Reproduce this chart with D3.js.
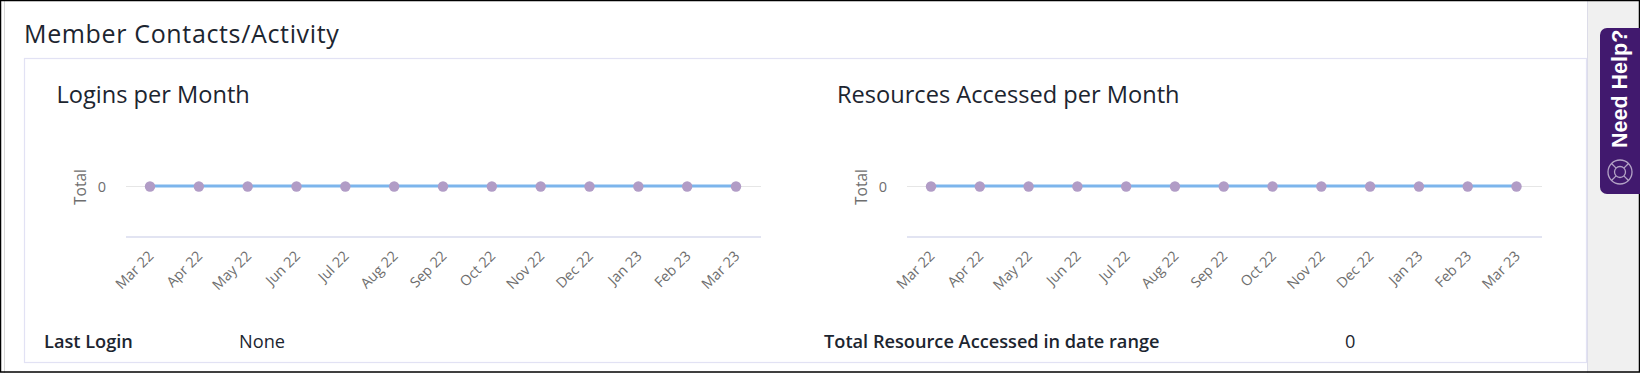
<!DOCTYPE html>
<html>
<head>
<meta charset="utf-8">
<script src="https://d3js.org/d3.v7.min.js"></script>
<style>
html, body { margin: 0; padding: 0; background: #fff; overflow: hidden; }
text { font-family: "Open Sans", sans-serif; }
</style>
</head>
<body>
<div id="chart"></div>
<script>
const months = ["Mar 22", "Apr 22", "May 22", "Jun 22", "Jul 22", "Aug 22", "Sep 22", "Oct 22", "Nov 22", "Dec 22", "Jan 23", "Feb 23", "Mar 23"];
const logins = [0, 0, 0, 0, 0, 0, 0, 0, 0, 0, 0, 0, 0];
const resources = [0, 0, 0, 0, 0, 0, 0, 0, 0, 0, 0, 0, 0];
const yTicks = [0];

const width = 1640;
const height = 373;

const svg = d3.select("#chart")
    .append("svg")
    .attr("width", width)
    .attr("height", height)
    .style("display", "block");

// page frame and side strip
svg.append("rect").attr("x", 1587).attr("y", 0).attr("width", 53).attr("height", height).attr("fill", "#f0f0f0");
svg.append("line").attr("x1", 1587.5).attr("x2", 1587.5).attr("y1", 0).attr("y2", height).attr("stroke", "#dcdce8");
svg.append("line").attr("x1", 4.5).attr("x2", 4.5).attr("y1", 0).attr("y2", height).attr("stroke", "#d8d8d8");
svg.append("rect").attr("x", 0.5).attr("y", 0.5).attr("width", width - 1).attr("height", height - 1.5)
    .attr("fill", "none").attr("stroke", "#000").attr("stroke-width", 1.5);

svg.append("text").attr("x", 24).attr("y", 43).attr("font-size", 25).attr("letter-spacing", 0.65).attr("fill", "#1c2530")
    .text("Member Contacts/Activity");

// panel
svg.append("rect").attr("x", 24.5).attr("y", 58.5).attr("width", 1562).attr("height", 304)
    .attr("fill", "#fff").attr("stroke", "#e2e2f4").attr("stroke-width", 1.2);

function drawChart(cfg) {
    const g = svg.append("g");

    g.append("text").attr("x", cfg.titleX).attr("y", 103).attr("font-size", 23.6).attr("fill", "#1c2530")
        .text(cfg.title);

    const xScale = d3.scalePoint().domain(months).range([cfg.first, cfg.last]);
    const yScale = d3.scaleLinear().domain([0, 1]).range([186.5, 136]);

    // baseline + labels
    const xAxis = g.append("g")
        .attr("transform", "translate(0,237)")
        .call(d3.axisBottom(xScale).tickSize(0));
    xAxis.select(".domain").remove();
    xAxis.append("line").attr("x1", cfg.axisL).attr("x2", cfg.axisR)
        .attr("stroke", "#e2e4f2").attr("stroke-width", 2);
    xAxis.selectAll("text")
        .attr("font-family", "'Open Sans', sans-serif")
        .attr("font-size", 14.3)
        .attr("fill", "#6e6e6e")
        .attr("text-anchor", "end")
        .attr("dy", 0)
        .attr("y", 0)
        .attr("transform", "translate(4,20) rotate(-45)");

    // y axis
    const yAxis = g.append("g")
        .attr("transform", "translate(" + cfg.axisL + ",0)")
        .call(d3.axisLeft(yScale).tickValues(yTicks).tickFormat(d3.format("d")).tickSize(0).tickPadding(20));
    yAxis.select(".domain").remove();
    yAxis.selectAll("text")
        .attr("font-family", "'Open Sans', sans-serif")
        .attr("font-size", 14.5)
        .attr("fill", "#6e6e6e");

    g.selectAll(".grid").data(yTicks).enter().append("line")
        .attr("class", "grid")
        .attr("x1", cfg.axisL).attr("x2", cfg.axisR)
        .attr("y1", d => yScale(d)).attr("y2", d => yScale(d))
        .attr("stroke", "#e6e6e6").attr("stroke-width", 1);

    g.append("text")
        .attr("transform", "translate(" + (cfg.axisL - 40) + ",187) rotate(-90)")
        .attr("text-anchor", "middle")
        .attr("font-size", 15.5)
        .attr("fill", "#6e6e6e")
        .text("Total");

    const line = d3.line().x((d, i) => xScale(months[i])).y(d => yScale(d) - 0.5);
    g.append("path").datum(cfg.values)
        .attr("d", line)
        .attr("fill", "none")
        .attr("stroke", "#7cb5ec")
        .attr("stroke-width", 3);

    g.selectAll("circle").data(cfg.values).enter().append("circle")
        .attr("cx", (d, i) => xScale(months[i]))
        .attr("cy", d => yScale(d))
        .attr("r", 5.2)
        .attr("fill", "#b19cc6");
}

drawChart({title: "Logins per Month", titleX: 56.5, values: logins, first: 150, last: 736, axisL: 126, axisR: 761});
drawChart({title: "Resources Accessed per Month", titleX: 837, values: resources, first: 931, last: 1516.5, axisL: 907, axisR: 1542});

// bottom summary row
svg.append("text").attr("x", 44).attr("y", 348).attr("font-size", 18.2).attr("font-weight", 600).attr("fill", "#1c2530").text("Last Login");
svg.append("text").attr("x", 239).attr("y", 348).attr("font-size", 18.2).attr("fill", "#1c2530").text("None");
svg.append("text").attr("x", 824).attr("y", 348).attr("font-size", 18.2).attr("font-weight", 600).attr("fill", "#1c2530").text("Total Resource Accessed in date range");
svg.append("text").attr("x", 1345).attr("y", 348).attr("font-size", 18.2).attr("fill", "#1c2530").text("0");

// need help tab
const tab = svg.append("g");
tab.append("path")
    .attr("d", "M1640,28H1607a7,7 0 0 0 -7,7V187a7,7 0 0 0 7,7H1640Z")
    .attr("fill", "#41196e");
tab.append("text")
    .attr("transform", "translate(1627,148) rotate(-90)")
    .attr("font-size", 21.5)
    .attr("font-weight", 700)
    .style("font-family", "'Liberation Sans', Arial, sans-serif")
    .attr("fill", "#fff")
    .text("Need Help?");
const icon = tab.append("g").attr("transform", "translate(1620,172)").attr("fill", "none").attr("stroke", "#b3a3c5").attr("stroke-width", 1.3);
icon.append("circle").attr("r", 12);
icon.append("circle").attr("r", 5.5);
d3.range(4).forEach(i => {
    const a = Math.PI / 4 + i * Math.PI / 2;
    icon.append("line")
        .attr("x1", 5.5 * Math.cos(a)).attr("y1", 5.5 * Math.sin(a))
        .attr("x2", 12 * Math.cos(a)).attr("y2", 12 * Math.sin(a));
});
</script>
</body>
</html>
